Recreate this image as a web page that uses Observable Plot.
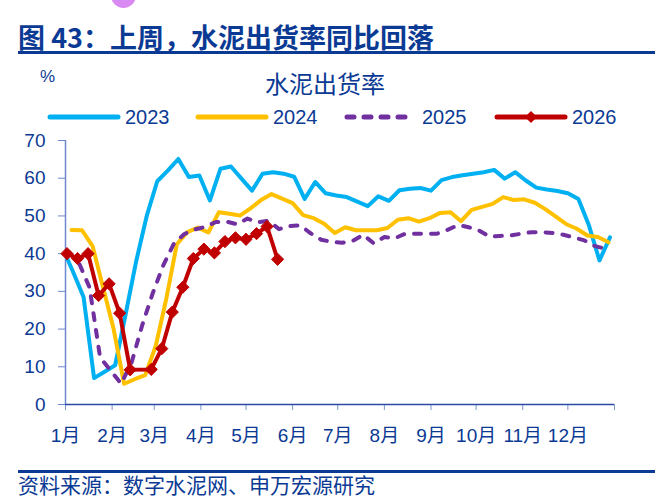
<!DOCTYPE html>
<html>
<head>
<meta charset="utf-8">
<script src="https://cdn.jsdelivr.net/npm/d3@7"></script>
<script src="https://cdn.jsdelivr.net/npm/@observablehq/plot@0.6"></script>
<style>
  body { margin: 0; background: #fff; }
  #page {
    position: relative; width: 663px; height: 501px; overflow: hidden; background: #fff;
    font-family: "Liberation Sans", Arial, "Noto Sans CJK SC", sans-serif; color: #0b3a94;
  }
  .abs { position: absolute; white-space: nowrap; line-height: 1; }
  .blob { position: absolute; left: 111px; top: -17px; width: 25px; height: 25px; border-radius: 50%; background: #d98af2; }
  .title { left: 18px; top: 23px; font-size: 27px; font-weight: bold; font-family: "Noto Sans CJK SC", sans-serif; }
  .rule { position: absolute; left: 18px; width: 637px; height: 3px; background: #0b3a94; }
  .unit { left: 40px; top: 68px; font-size: 17px; }
  .subtitle { left: 0; width: 650px; text-align: center; top: 71px; font-size: 24px; font-family: "Noto Sans CJK SC", sans-serif; }
  .source { left: 18px; top: 474px; font-size: 21px; font-family: "Noto Sans CJK SC", sans-serif; }
  #chart { position: absolute; left: 0; top: 120px; }
  #legend { position: absolute; left: 0; top: 105px; z-index: 2; }
</style>
</head>
<body>
<div id="page">
  <div class="blob"></div>
  <div class="abs title">图 43：上周，水泥出货率同比回落</div>
  <div class="rule" style="top:51px"></div>
  <div class="abs unit">%</div>
  <div class="abs subtitle">水泥出货率</div>
  <div id="chart"></div>
  <div id="legend"></div>
  <div class="rule" style="top:470px"></div>
  <div class="abs source">资料来源：数字水泥网、申万宏源研究</div>
</div>
<script>
// Weekly cement shipment rate (%), one list per year, first value dated by firstWeeks
const seriesNames = ["2023", "2024", "2025", "2026"];
const firstWeeks = ["2022-12-30", "2024-01-05", "2025-01-03", "2026-01-02"];

const rate2023 = [41.5, 35.2, 28.5, 7.0, 8.7, 10.4, 24, 38, 50, 59.2, 62, 65.1, 60.3, 60.7, 54.1, 62.5,
  63.1, 59.9, 56.7, 61.2, 61.6, 61.2, 60.4, 54.5, 59, 56, 55.4, 55, 53.8, 52.6, 55.2, 54, 56.8, 57.2,
  57.4, 56.7, 59.5, 60.3, 60.8, 61.2, 61.6, 62.2, 59.9, 61.6, 59.4, 57.5, 57, 56.6, 56, 54.5, 47.5, 38.2, 44.3];
const rate2024 = [46.3, 46.2, 42, 31, 20, 5.5, 6.7, 7.8, 15.5, 28, 42.5, 45.7, 46.9, 45.6, 51, 50.6,
  50.1, 52, 54.2, 55.8, 54.6, 53.4, 50.2, 49.4, 47.9, 45.5, 47, 46.2, 46.2, 46.2, 46.8, 49, 49.4, 48.5,
  49.4, 50.8, 51, 48.6, 51.6, 52.4, 53.2, 55, 54.2, 54.4, 53.5, 51.8, 49.8, 47.8, 46.6, 44.8, 44.4, 43];
const rate2025 = [40.5, 37.5, 31, 12.5, 9, 5.5, 11.2, 21, 29.5, 36.9, 42.6, 45.2, 46.4, 47.1, 48.4, 48.5,
  47.8, 49.3, 48.3, 48.7, 46.5, 47.3, 47.5, 45.4, 43.7, 43.1, 42.9, 43.4, 45, 42.7, 44.4, 44.1, 45.3,
  45.3, 45.3, 45.3, 46.3, 47.6, 47, 46.1, 44.5, 44.7, 44.8, 45.3, 45.7, 45.7, 45.5, 45, 44.3, 43.5, 42, 41.3];
const rate2026 = [40.0, 38.7, 40.0, 28.9, 32.0, 24.2, 9.2, null, 9.3, 14.8, 24.5, 31.1, 38.7, 41.2,
  40.2, 43.2, 44.2, 43.8, 45.3, 47.2, 38.5];

const monthLabels = ["1月", "2月", "3月", "4月", "5月", "6月", "7月", "8月", "9月", "10月", "11月", "12月"];
const yTicks = [0, 10, 20, 30, 40, 50, 60, 70];

// Styling
const navy = "#0b3a94";
const style = {
  "2023": { stroke: "#00b0f0" },
  "2024": { stroke: "#ffc000" },
  "2025": { stroke: "#7030a0", strokeDasharray: "7,10" },
  "2026": { stroke: "#c00000" }
};

// Place every year on a common calendar so weeks line up by day of year
const DAY = 864e5;
const base = Date.UTC(2001, 0, 1);
function toRows(name, first, values) {
  const start = Date.parse(first + "T00:00:00Z");
  const yearStart = Date.UTC(+name, 0, 1);
  return values.map((v, i) => {
    const off = Math.round((start + i * 7 * DAY - yearStart) / DAY);
    return { year: name, date: new Date(base + off * DAY), value: v };
  }).filter(d => d.value != null);
}
const allRates = [rate2023, rate2024, rate2025, rate2026];
const rows = seriesNames.map((n, i) => toRows(n, firstWeeks[i], allRates[i]));

const monthStarts = d3.utcMonth.range(new Date(base), new Date(Date.UTC(2002, 0, 2)));

const chart = Plot.plot({
  width: 663,
  height: 330,
  marginTop: 20,
  marginBottom: 46,
  marginLeft: 65,
  marginRight: 49,
  style: { fontFamily: "'Liberation Sans', Arial, 'Noto Sans CJK SC', sans-serif", background: "transparent", overflow: "visible" },
  x: { type: "utc", domain: [new Date(base), new Date(Date.UTC(2002, 0, 1))] },
  y: { domain: [0, 70] },
  marks: [
    Plot.axisY({ ticks: yTicks, tickSize: 7, tickPadding: 13, stroke: "#6d88cc", fill: navy, fontSize: 19, label: null }),
    Plot.axisX({ ticks: monthStarts, tickSize: 6, tickPadding: 18, stroke: "#7d95d0", fill: navy, fontSize: 19,
      tickFormat: (d, i) => monthLabels[i] ?? "", label: null }),
    Plot.ruleX([new Date(base)], { stroke: "#6d88cc", strokeWidth: 1.5 }),
    Plot.ruleY([0], { stroke: "#2a4aa6", strokeWidth: 1.5 }),
    ...seriesNames.map((n, i) => Plot.line(rows[i], {
      x: "date", y: "value", strokeWidth: 4, strokeLinecap: "round", strokeLinejoin: "round", clip: true,
      ...style[n]
    })),
    Plot.dot(rows[3], { x: "date", y: "value", symbol: "diamond2", r: 5.5, fill: style["2026"].stroke, stroke: style["2026"].stroke, strokeWidth: 1 })
  ]
});
document.getElementById("chart").append(chart);

// Legend row
const lg = d3.select("#legend").append("svg").attr("width", 663).attr("height", 26);
const lgX = [50, 198, 347, 497];
seriesNames.forEach((n, i) => {
  const x0 = lgX[i], y0 = 12;
  lg.append("line").attr("x1", x0).attr("x2", x0 + 68).attr("y1", y0).attr("y2", y0)
    .attr("stroke", style[n].stroke).attr("stroke-width", 5).attr("stroke-linecap", "round")
    .attr("stroke-dasharray", style[n].strokeDasharray ?? null);
  if (n === "2026") {
    lg.append("path").attr("d", d3.symbol(d3.symbolDiamond2, 95)()).attr("transform", `translate(${x0 + 34},${y0})`)
      .attr("fill", style[n].stroke);
  }
  lg.append("text").attr("x", x0 + 75).attr("y", y0).attr("dy", "0.36em").attr("fill", navy)
    .attr("font-size", 20).attr("font-family", "'Liberation Sans', Arial, sans-serif").text(n);
});
</script>
</body>
</html>
